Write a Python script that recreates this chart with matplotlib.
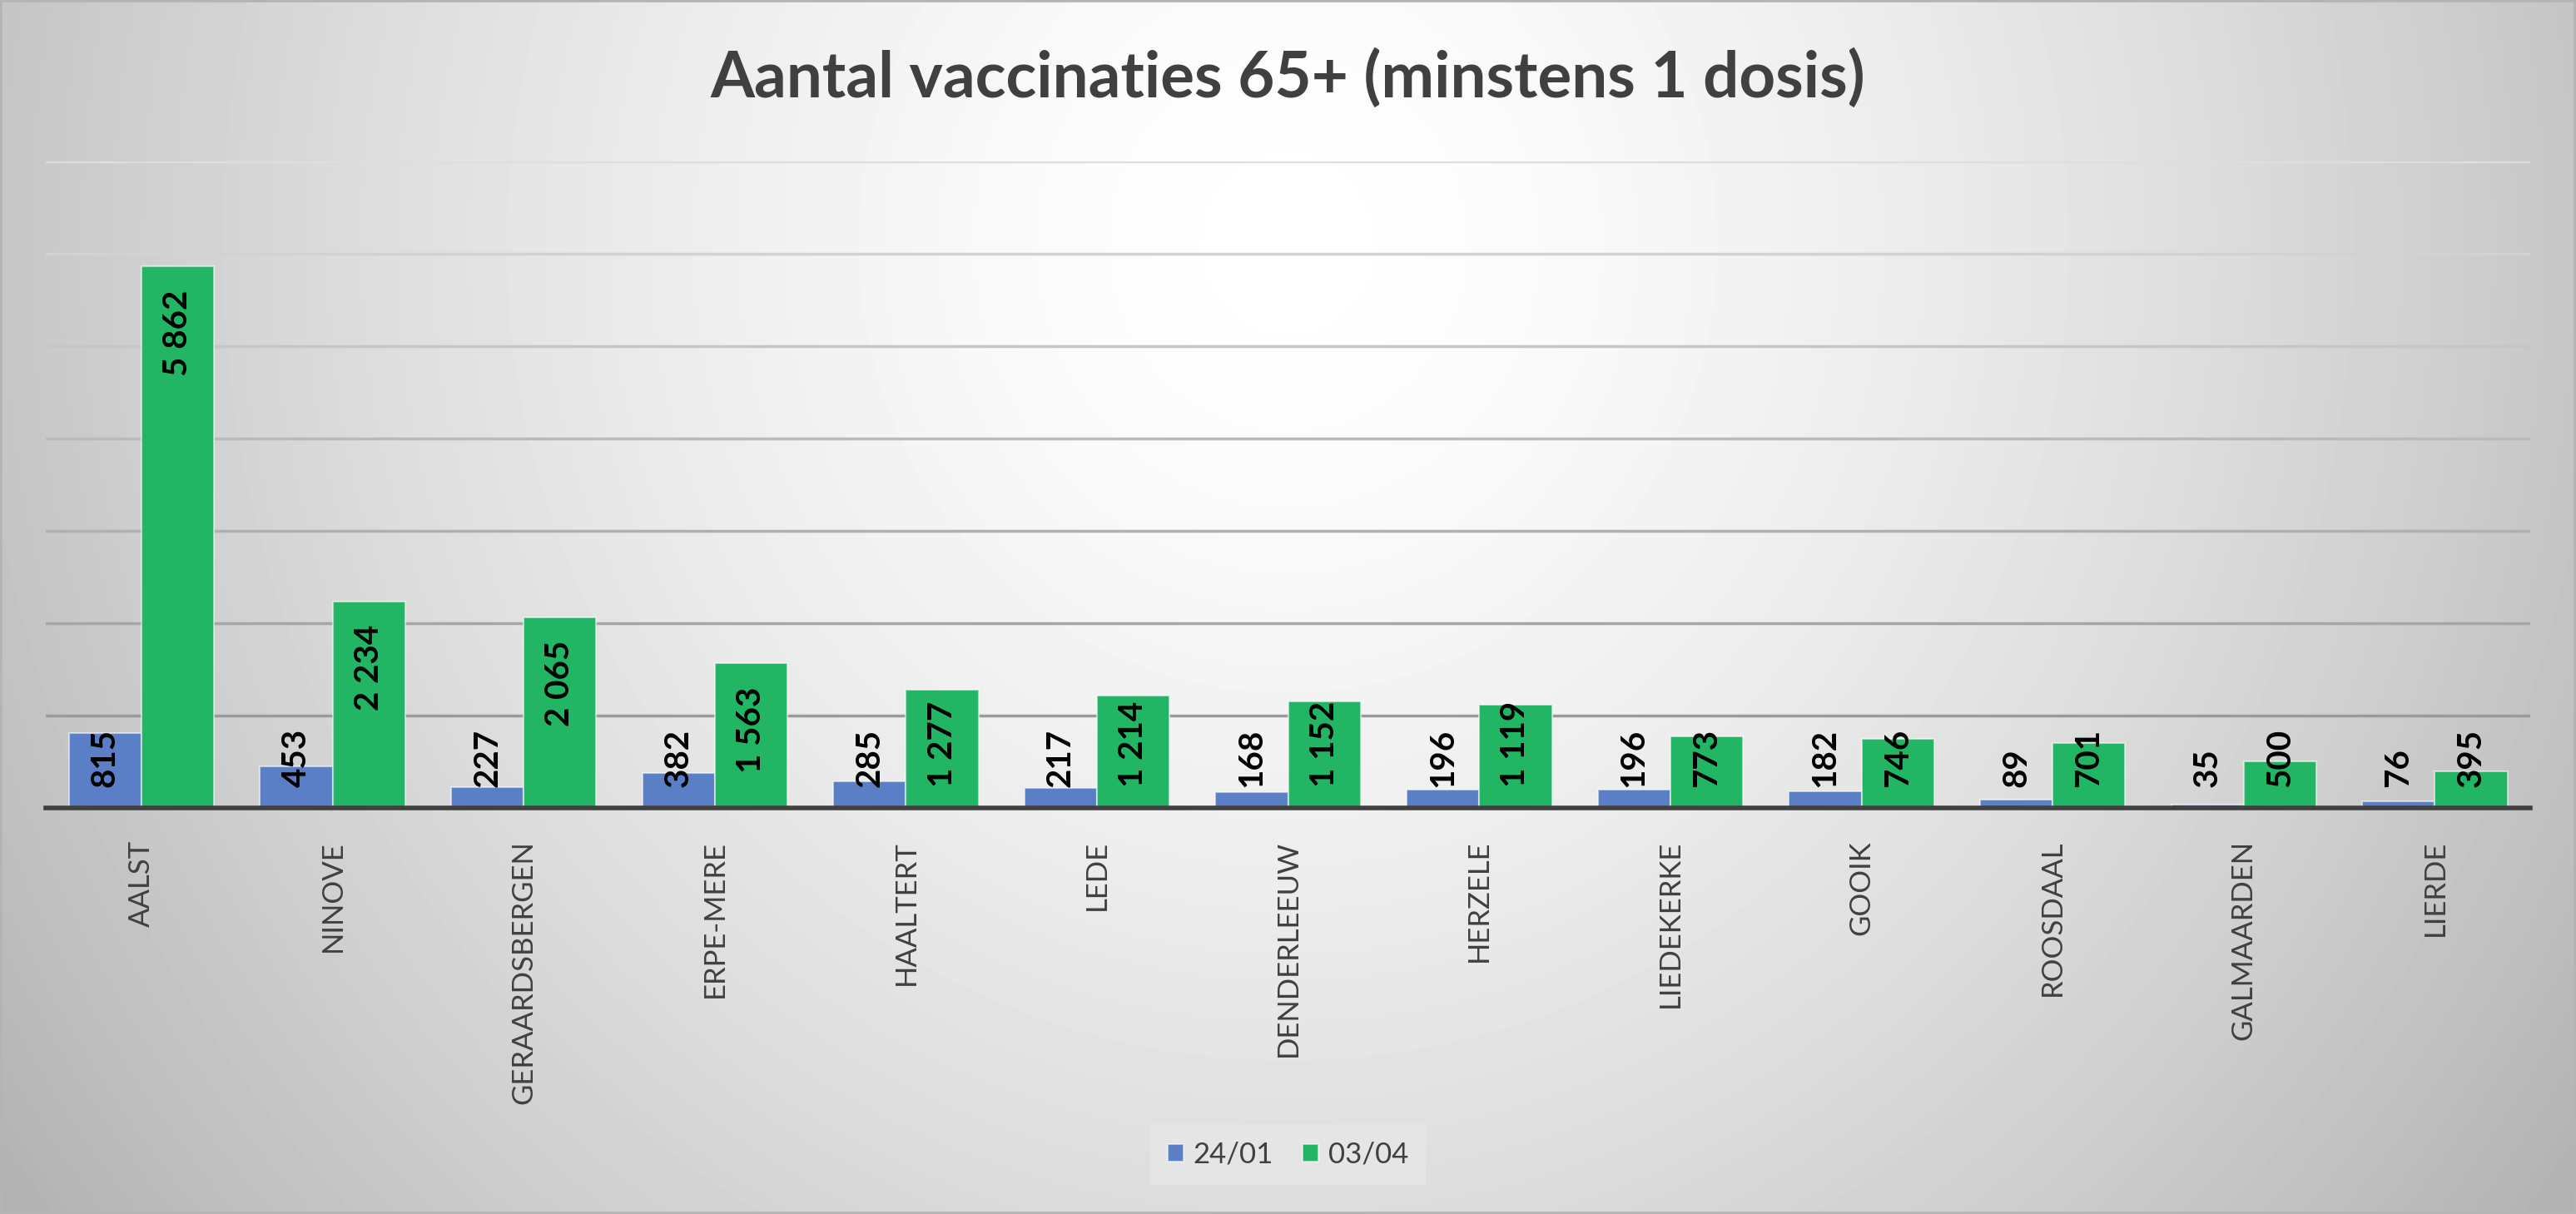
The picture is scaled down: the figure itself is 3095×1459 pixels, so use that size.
"""Grouped bar chart: aantal vaccinaties 65+ per gemeente (24/01 vs 03/04)."""
import numpy as np
import matplotlib
matplotlib.use("Agg")
import matplotlib.pyplot as plt
from matplotlib.patches import Rectangle

plt.rcParams["font.family"] = ["Lato", "DejaVu Sans"]

gemeenten = ["AALST", "NINOVE", "GERAARDSBERGEN", "ERPE-MERE", "HAALTERT", "LEDE",
             "DENDERLEEUW", "HERZELE", "LIEDEKERKE", "GOOIK", "ROOSDAAL",
             "GALMAARDEN", "LIERDE"]
jan24 = [815, 453, 227, 382, 285, 217, 168, 196, 196, 182, 89, 35, 76]
apr03 = [5862, 2234, 2065, 1563, 1277, 1214, 1152, 1119, 773, 746, 701, 500, 395]
series_names = ["24/01", "03/04"]

BLUE = "#5B7FC7"
GREEN = "#22B564"
TXT = "#404040"
W = 0.38
# gridlines fade out towards the top
GRID_COLORS = ["#9a9a9a", "#a6a6a6", "#b0b0b0", "#bababa", "#c6c6c6", "#d2d2d2", "#dedede"]


def fmt(v):
    return f"{v:,}".replace(",", " ")


fig = plt.figure(figsize=(30.95, 14.59), dpi=100)

# background: soft radial grey gradient, lightest near the top centre
bg = fig.add_axes([0, 0, 1, 1], zorder=-10)
yy, xx = np.mgrid[0:1:300j, 0:1:600j]
d = np.hypot(xx - 0.5, (yy - 0.2) * 0.45)
bg.imshow(np.clip(1.0 - 0.63 * d ** 1.5, 0, 1), cmap="gray", vmin=0, vmax=1,
          aspect="auto", extent=(0, 1, 0, 1), origin="upper", interpolation="bilinear")
bg.set_axis_off()
fig.patches.append(Rectangle((0, 0), 1, 1, transform=fig.transFigure, fill=False,
                             edgecolor="#b4b4b4", lw=4, zorder=10))

ax = fig.add_axes([0.0178, 0.3345, 0.9645, 0.5325])
ax.patch.set_alpha(0)
x = np.arange(len(gemeenten))
b1 = ax.bar(x - W / 2, jan24, W, color=BLUE, edgecolor=(1, 1, 1, 0.55), lw=1.5,
            label=series_names[0], zorder=3)
b2 = ax.bar(x + W / 2, apr03, W, color=GREEN, edgecolor=(1, 1, 1, 0.55), lw=1.5,
            label=series_names[1], zorder=3)

ax.set_xlim(-0.5, len(gemeenten) - 0.5)
ax.set_ylim(0, 7000)
for yv, c in zip(range(1000, 7001, 1000), GRID_COLORS):
    ax.axhline(yv, color=c, lw=2.5, zorder=1)
ax.set_yticks([])
ax.set_xticks(x)
ax.set_xticklabels(gemeenten, rotation=90, fontsize=25, color=TXT)
ax.tick_params(axis="x", length=0, pad=28)
for s in ["top", "right", "left"]:
    ax.spines[s].set_visible(False)
ax.spines["bottom"].set_color(TXT)
ax.spines["bottom"].set_linewidth(4)
ax.spines["bottom"].set_zorder(5)

# data labels: inside end, pushed up when the bar is too short
labels = []
for xs, vals in ((x - W / 2, jan24), (x + W / 2, apr03)):
    for xi, v in zip(xs, vals):
        t = ax.annotate(fmt(v), (xi, v), xytext=(0, -20), textcoords="offset points",
                        rotation=90, ha="center", va="top", fontsize=29,
                        fontweight="bold", color="black", zorder=6)
        labels.append((t, xi, v))
fig.canvas.draw()
r = fig.canvas.get_renderer()
base_px = ax.transData.transform((0, 0))[1]
for t, xi, v in labels:
    ext = t.get_window_extent(r)
    if ext.y0 < base_px + 18:
        t.xy = (xi, 0)
        t.set_position((0, 18))
        t.set_va("bottom")

fig.text(0.5, 0.936, "Aantal vaccinaties 65+ (minstens 1 dosis)", ha="center",
         va="center", fontsize=55, fontweight="bold", color=TXT)

leg = fig.legend(handles=[b1, b2], loc="center", bbox_to_anchor=(0.5, 0.049),
                 ncol=2, fontsize=25, frameon=True, handlelength=0.55,
                 handleheight=0.55, handletextpad=0.35, columnspacing=1.0,
                 borderpad=0.6, labelcolor=TXT)
leg.get_frame().set_facecolor("#e6e6e6")
leg.get_frame().set_edgecolor("none")
leg.get_frame().set_alpha(0.9)
leg.get_frame().set_boxstyle("square", pad=0)

fig.savefig("out.png", dpi=100)
